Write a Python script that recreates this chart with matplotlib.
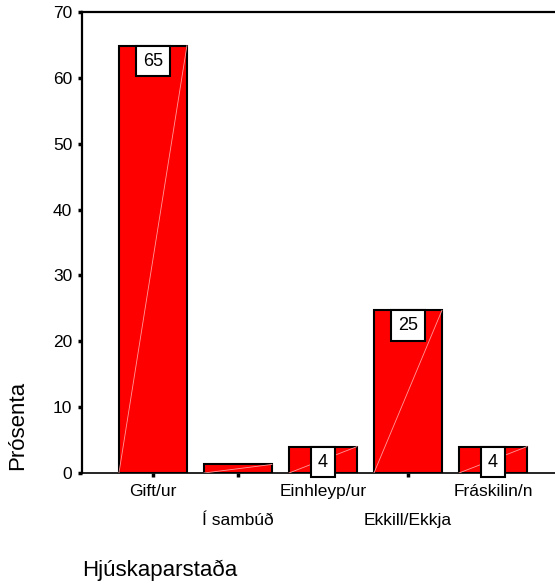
import numpy as np
import matplotlib
matplotlib.use("Agg")
import matplotlib.pyplot as plt

# --- Data ---
categories = ["Gift/ur", "Í sambúð", "Einhleyp/ur", "Ekkill/Ekkja", "Fráskilin/n"]
percent = [64.9, 1.3, 4.0, 24.7, 4.0]
value_labels = ["65", "", "4", "25", "4"]
y_ticks = [0, 10, 20, 30, 40, 50, 60, 70]

plt.rcParams['font.family'] = ['Liberation Sans', 'DejaVu Sans']

fig = plt.figure(figsize=(5.55, 5.87), dpi=100)
ax = fig.add_axes([0.1477, 0.1942, 0.8523, 0.7854])

xpos = np.arange(len(categories))
width = 0.8
ax.bar(xpos, percent, width=width, color='#ff0000', edgecolor='black',
       linewidth=1.5, zorder=2)

# faint diagonal streak inside each bar (rendering artefact in the original)
for x, v in zip(xpos, percent):
    ax.plot([x - width / 2, x + width / 2], [0, v], color='#ff9a9a',
            linewidth=0.6, zorder=3)

# value boxes at the top of the bars
for x, v, lab in zip(xpos, percent, value_labels):
    if lab:
        ax.annotate(lab, (x, v), xytext=(0, -5), textcoords='offset points',
                    ha='center', va='top', fontsize=13, zorder=5,
                    bbox=dict(boxstyle='square,pad=0.38', facecolor='white',
                              edgecolor='black', linewidth=1.5))

ax.set_xlim(-0.835, 4.73)
ax.set_ylim(0, 70)
ax.set_yticks(y_ticks)
ax.set_xticks(xpos)
ax.set_xticklabels(categories, fontsize=12.5)
ax.tick_params(axis='y', labelsize=12.5, length=3, width=2.5, pad=4)
ax.tick_params(axis='x', length=3, width=2.5, pad=5)
for i, t in enumerate(ax.xaxis.get_major_ticks()):
    if i % 2 == 1:
        t.set_pad(26)

ax.spines['right'].set_visible(False)
for s in ['left', 'top']:
    ax.spines[s].set_linewidth(1.6)
ax.spines['bottom'].set_linewidth(1.2)

fig.text(18 / 555, 1 - 425 / 587, "Prósenta", rotation=90, fontsize=16,
         ha='center', va='center')
fig.text(82 / 555, 1 - 570 / 587, "Hjúskaparstaða", fontsize=16,
         ha='left', va='center')

fig.savefig("out.png", dpi=100)
